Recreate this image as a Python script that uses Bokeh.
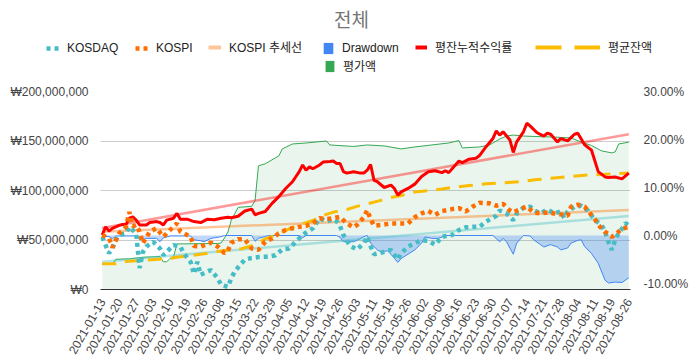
import math
from bokeh.plotting import figure
from bokeh.layouts import column
from bokeh.models import Range1d, LinearAxis, FixedTicker, Legend, LegendItem, Label
from bokeh.embed import file_html
from bokeh.resources import INLINE

FONT = "Liberation Sans, Noto Sans CJK KR"

# ---------------- data ----------------
title_text = "전체"
x_tick_labels = ["2021-01-13", "2021-01-20", "2021-01-27", "2021-02-03", "2021-02-10", "2021-02-19",
                 "2021-02-26", "2021-03-08", "2021-03-15", "2021-03-22", "2021-03-29", "2021-04-05",
                 "2021-04-12", "2021-04-19", "2021-04-26", "2021-05-03", "2021-05-11", "2021-05-18",
                 "2021-05-26", "2021-06-02", "2021-06-09", "2021-06-16", "2021-06-23", "2021-06-30",
                 "2021-07-07", "2021-07-14", "2021-07-21", "2021-07-28", "2021-08-04", "2021-08-11",
                 "2021-08-19", "2021-08-26"]
n_days = 156          # trading days, 2021-01-13 .. 2021-08-26
label_step = 5        # one label every 5 trading days

left_ticks = [0, 50, 100, 150, 200]            # millions of won
left_tick_labels = ["₩0", "₩50,000,000", "₩100,000,000", "₩150,000,000", "₩200,000,000"]
right_ticks = [-10, 0, 10, 20, 30]             # percent
right_tick_labels = ["-10.00%", "0.00%", "10.00%", "20.00%", "30.00%"]

# 평잔누적수익률 (%), day index -> value
red_idx = [0, 1, 2, 3, 5, 6, 7, 8, 9, 10, 11, 13, 14, 16, 17, 18, 19, 21, 22, 23, 25, 27, 29, 31, 33, 35, 37, 38,
           40, 42, 44, 45, 46, 48, 50, 52, 54, 56, 58, 59, 60, 61, 62, 64, 65, 67, 68, 69, 70, 71, 72, 74, 76, 77,
           78, 79, 80, 81, 83, 85, 86, 87, 88, 90, 92, 94, 96, 98, 100, 101, 102, 105, 106, 108, 110, 111, 113,
           115, 116, 117, 118, 120, 121, 122, 124, 125, 126, 128, 130, 131, 132, 134, 135, 137, 139, 140, 142,
           144, 146, 148, 149, 151, 153, 155]
red_val = [0.1, 1.8, 0.9, 1.5, 2.1, 2.3, 2.3, 3.6, 3.9, 3.2, 2.2, 2.2, 2.7, 2.9, 2.7, 2.2, 3.2, 3.6, 4.6, 3.4, 3.4,
           2.9, 2.7, 3.4, 3.3, 3.6, 3.8, 3.7, 4.0, 5.1, 5.5, 4.3, 4.6, 5.0, 6.7, 8.1, 9.8, 11.2, 13.3, 14.7, 13.6,
           14.3, 13.9, 14.7, 15.3, 15.4, 15.5, 15.0, 15.0, 13.3, 13.0, 13.3, 13.0, 13.0, 13.6, 14.8, 11.5, 11.2,
           10.0, 10.5, 9.8, 8.4, 9.1, 9.8, 10.7, 12.3, 13.3, 13.5, 13.1, 13.5, 13.1, 15.5, 15.2, 15.9, 16.1, 16.6,
           18.5, 20.2, 21.8, 20.9, 21.6, 19.9, 17.3, 19.5, 21.6, 23.4, 22.8, 21.4, 20.7, 21.3, 21.1, 19.5, 20.2,
           19.7, 21.1, 21.3, 18.9, 17.8, 13.3, 12.2, 12.1, 12.2, 11.8, 13.0]

# 평가액 (millions of won)
green_idx = [0, 3, 4, 8, 12, 17, 18, 19, 20, 21, 22, 34, 35, 36, 37, 38, 40, 44, 45, 46, 48, 52, 53, 56, 60, 66,
             67, 74, 78, 83, 88, 92, 97, 102, 105, 106, 111, 114, 117, 119, 121, 124, 128, 133, 138, 141, 144,
             147, 150, 151, 152, 155]
green_val = [25.5, 25.5, 30.5, 31, 32.6, 33.3, 28, 28, 31.5, 33, 46, 46.5, 47, 52, 58, 70, 83, 84, 90, 125, 127,
             135, 142, 147, 148, 150, 146, 144.5, 146, 145, 142, 144, 146, 148, 150.5, 143, 144, 146, 152, 155,
             156, 155, 154.5, 154, 153, 149, 145.5, 140, 138, 139, 147, 148.8]

# 평균잔액 (millions of won)
yellow_idx = [0, 4, 7, 12, 19, 22, 26, 30, 33, 36, 41, 45, 48, 52, 55, 58, 62, 65, 68, 72, 75, 78, 82, 85, 88, 92,
              96, 100, 104, 108, 113, 118, 123, 128, 133, 138, 143, 148, 155]
yellow_val = [26, 26, 28.3, 29.5, 31, 32.6, 34.3, 36, 37.7, 39.5, 41.1, 45.1, 51.2, 56.2, 61.3, 65.3, 69.7, 74.7,
              78.1, 80.8, 84, 86.5, 90, 93, 95, 98.4, 99.8, 101.5, 103.5, 105, 106.8, 107.8, 108.8, 111, 112.6,
              114.2, 115.6, 116.3, 117.6]

# KOSPI (%)
kospi_idx = [0, 2, 3, 5, 7, 8, 9, 10, 11, 12, 14, 16, 18, 20, 22, 23, 24, 26, 27, 29, 32, 34, 36, 37, 38, 40, 42,
             44, 46, 48, 50, 52, 54, 56, 58, 60, 62, 64, 66, 68, 70, 72, 74, 75, 77, 78, 79, 80, 82, 85, 88, 90,
             92, 94, 96, 98, 100, 103, 105, 107, 109, 111, 114, 116, 118, 120, 121, 123, 125, 127, 129, 131, 133,
             135, 137, 138, 140, 142, 145, 146, 148, 150, 151, 153, 155]
kospi_val = [0.1, -0.6, -2.5, 0.45, 1.8, 4.9, 1.9, 2.2, 0.8, -1.6, 0.8, 1.5, -0.25, 1.15, 2.5, 0.8, 0.45, -0.25,
             -2.2, -2.3, -1.5, -2.3, -3.7, -3.2, -1.5, -0.8, -0.8, -2.7, -3.0, -1.3, -0.6, 0.45, 1.15, 1.5, 1.8,
             2.0, 2.5, 3.6, 3.4, 3.6, 3.9, 2.5, 1.7, 2.2, 3.8, 5.3, 3.4, 2.05, 2.2, 2.5, 2.5, 2.5, 3.8, 4.6, 5.1,
             4.3, 5.1, 5.5, 5.7, 5.0, 6.0, 6.8, 6.7, 6.2, 6.6, 5.2, 4.8, 5.5, 6.0, 4.8, 4.6, 4.8, 4.6, 4.4, 4.1,
             6.0, 6.4, 6.0, 3.4, 2.2, 0.8, -0.3, 0.2, 1.4, 1.8]

# KOSDAQ (%)
kosdaq_idx = [0, 1, 2, 3, 4, 5, 7, 8, 10, 11, 12, 13, 15, 17, 18, 20, 21, 23, 24, 26, 27, 28, 29, 31, 32, 34, 35,
              37, 38, 39, 41, 42, 44, 46, 49, 51, 53, 55, 57, 59, 60, 62, 64, 66, 68, 69, 70, 71, 72, 73, 75, 77,
              78, 79, 80, 82, 83, 85, 87, 88, 90, 92, 94, 96, 98, 100, 103, 105, 107, 109, 111, 113, 116, 117,
              119, 121, 122, 124, 126, 127, 129, 131, 133, 135, 136, 137, 139, 141, 143, 145, 147, 148, 149, 150,
              151, 152, 153, 154, 155]
kosdaq_val = [-0.3, -2.0, -3.7, -2.7, -0.9, 0.1, 0.45, 1.8, 0.45, -6.8, -3.4, -2.3, -1.3, -2.7, -4.1, -2.7, -2.0,
              -2.3, -3.7, -5.5, -8.0, -5.5, -8.2, -7.5, -7.2, -8.9, -10.3, -10.7, -8.9, -7.5, -5.8, -5.0, -4.7,
              -4.5, -4.4, -4.1, -2.9, -2.7, -1.3, 0.1, 0.6, 1.5, 3.6, 2.9, 3.4, 3.0, 2.0, 0.1, -1.0, -2.2, -2.9,
              -1.6, -0.25, -2.2, -3.9, -3.6, -3.4, -3.0, -5.0, -3.7, -2.3, -1.6, -1.0, -1.1, -1.9, -0.25, 0.1,
              1.15, 1.7, 1.8, 1.8, 2.9, 4.1, 5.2, 4.6, 3.2, 4.6, 5.8, 6.0, 5.3, 4.6, 5.4, 4.6, 5.0, 3.6, 5.0, 6.0,
              6.2, 5.2, 3.2, 2.2, 0.8, -1.3, -3.0, -0.9, 0.5, 1.4, 2.6, 2.0]

# Drawdown (%)
dd_idx = [0, 2, 3, 4, 10, 11, 12, 13, 16, 17, 18, 20, 26, 27, 29, 30, 32, 35, 36, 44, 45, 46, 48, 49, 58, 59, 60,
          69, 70, 71, 74, 75, 77, 78, 79, 81, 82, 84, 85, 87, 88, 90, 92, 94, 95, 97, 99, 101, 115, 117, 118, 119,
          121, 122, 124, 126, 127, 129, 130, 132, 134, 135, 137, 138, 140, 141, 142, 144, 146, 148, 149, 151,
          153, 155]
dd_val = [-0.2, -0.2, -0.7, -0.1, -0.1, -0.9, -0.9, -0.6, -0.6, -1.3, -0.5, -0.1, -0.1, -0.9, -1.1, -1.3, -0.6,
          -0.25, 0, 0, -1.2, -0.6, -0.2, 0, 0, -0.45, 0, 0, -0.4, -1.3, -1.3, -1.0, -0.25, 0, -1.6, -3.0, -3.4,
          -3.2, -3.9, -5.6, -4.8, -3.9, -3.0, -1.6, -0.3, -0.6, -0.6, 0, 0, -1.3, -0.6, -1.3, -3.9, -1.6, 0, -0.1,
          -0.9, -1.9, -2.4, -1.9, -2.4, -3.0, -2.6, -1.6, -1.0, -0.9, -2.3, -3.7, -5.8, -9.3, -9.9, -9.7, -9.8,
          -8.8]

# trend lines (%), first and last day
trend_idx = [0, 155]
red_trend = [1.56, 21.1]
kospi_trend = [0.8, 5.3]
kosdaq_trend = [-5.45, 4.06]

# ---------------- header (title + legend) ----------------
# The header's ranges are set far away from the data, so its renderers only
# serve as legend swatches and draw nothing in the header itself.
HEAD_H = 80
head = figure(width=691, height=HEAD_H, output_backend="svg", toolbar_location=None, title=None,
              x_axis_type=None, y_axis_type=None, x_range=Range1d(-1000, -999), y_range=Range1d(-1000, -999),
              min_border=0, outline_line_color=None, background_fill_color="white",
              border_fill_color="white")
head.frame_align = False
head.xgrid.visible = False
head.ygrid.visible = False

h_kosdaq = head.line(kosdaq_idx, kosdaq_val, line_color="#46BDC6", line_width=4.5, line_dash="4 4",
                     line_cap="butt")
h_kospi = head.line(kospi_idx, kospi_val, line_color="#FF6D01", line_width=4.5, line_dash="4 4",
                    line_cap="butt")
h_kospi_tr = head.line(trend_idx, kospi_trend, line_color="#FF6D01", line_alpha=0.4, line_width=4)
h_dd = head.varea(x=dd_idx, y1=dd_val, y2=0, fill_color="#4285F4")
h_red = head.line(red_idx, red_val, line_color="#FF0000", line_width=4)
h_yellow = head.line(yellow_idx, yellow_val, line_color="#FBBC04", line_width=4, line_dash="26 13")
h_green = head.varea(x=green_idx, y1=0, y2=green_val, fill_color="#34A853")


def add_legend(label, renderer, vx, vy, gw):
    leg = Legend(items=[LegendItem(label=label, renderers=[renderer])], location=(vx, vy),
                 orientation="horizontal", glyph_width=gw, glyph_height=14, label_standoff=8,
                 label_height=14, padding=0, margin=0, spacing=0, border_line_color=None,
                 background_fill_alpha=0, label_text_font=FONT, label_text_font_size="12px",
                 label_text_color="#222222")
    head.add_layout(leg, "center")


row1 = HEAD_H - 55
row2 = HEAD_H - 74
add_legend("KOSDAQ", h_kosdaq, 46, row1, 13)
add_legend("KOSPI", h_kospi, 135, row1, 13)
add_legend("KOSPI 추세선", h_kospi_tr, 208, row1, 13)
add_legend("Drawdown", h_dd, 322, row1, 12)
add_legend("평잔누적수익률", h_red, 415, row1, 12)
add_legend("평균잔액", h_yellow, 535, row1, 65)
add_legend("평가액", h_green, 324, row2, 11)

head.add_layout(Label(x=351, y=HEAD_H - 20, x_units="screen", y_units="screen", text=title_text,
                      text_align="center", text_baseline="middle", text_font=FONT,
                      text_font_size="19px", text_color="#757575"))

# ---------------- main chart ----------------
p = figure(width=691, height=361 - HEAD_H, output_backend="svg", toolbar_location=None, title=None,
           x_range=Range1d(-0.5, n_days - 0.5), y_range=Range1d(0, 200),
           min_border_left=100, min_border_right=58, min_border_top=91 - HEAD_H, min_border_bottom=72,
           background_fill_color="white", border_fill_color="white", outline_line_color=None)
p.frame_align = False
p.extra_y_ranges = {"pct": Range1d(-11.25, 30)}
right_axis = LinearAxis(y_range_name="pct")
p.add_layout(right_axis, "right")

xa = p.xaxis[0]
xa.ticker = FixedTicker(ticks=[i * label_step for i in range(len(x_tick_labels))])
xa.major_label_overrides = {i * label_step: lab for i, lab in enumerate(x_tick_labels)}
xa.major_label_orientation = math.pi / 3
xa.major_tick_line_color = None
xa.minor_tick_line_color = None
xa.axis_line_color = "#333333"
xa.major_label_text_font = FONT
xa.major_label_text_font_size = "12px"
xa.major_label_text_color = "#444444"
xa.major_label_standoff = 4

la = p.left[0]
la.ticker = FixedTicker(ticks=left_ticks)
la.major_label_overrides = dict(zip(left_ticks, left_tick_labels))
ra = right_axis
ra.ticker = FixedTicker(ticks=right_ticks)
ra.major_label_overrides = dict(zip(right_ticks, right_tick_labels))
for ax in (la, ra):
    ax.axis_line_color = None
    ax.major_tick_line_color = None
    ax.minor_tick_line_color = None
    ax.major_label_text_font = FONT
    ax.major_label_text_font_size = "12px"
    ax.major_label_text_color = "#444444"
la.major_label_standoff = 6
ra.major_label_standoff = 7

p.xgrid.grid_line_color = None
p.ygrid.ticker = FixedTicker(ticks=left_ticks)
p.ygrid.grid_line_color = "#cccccc"

p.varea(x=green_idx, y1=0, y2=green_val, fill_color="#34A853", fill_alpha=0.1)
p.line(green_idx, green_val, line_color="#34A853", line_width=1)

p.varea(x=dd_idx, y1=dd_val, y2=0, y_range_name="pct", fill_color="#4285F4", fill_alpha=0.32)
p.line(dd_idx, dd_val, y_range_name="pct", line_color="#4285F4", line_width=1)

p.line(trend_idx, kosdaq_trend, y_range_name="pct", line_color="#46BDC6", line_alpha=0.4, line_width=2.5)
p.line(trend_idx, kospi_trend, y_range_name="pct", line_color="#FF6D01", line_alpha=0.4, line_width=2.5)
p.line(trend_idx, red_trend, y_range_name="pct", line_color="#FF0000", line_alpha=0.4, line_width=2.5)

p.line(yellow_idx, yellow_val, line_color="#FBBC04", line_width=3, line_dash="14 9")
p.line(red_idx, red_val, y_range_name="pct", line_color="#FF0000", line_width=3)
p.line(kosdaq_idx, kosdaq_val, y_range_name="pct", line_color="#46BDC6", line_width=4.5,
       line_dash="4 4", line_cap="butt")
p.line(kospi_idx, kospi_val, y_range_name="pct", line_color="#FF6D01", line_width=4.5,
       line_dash="4 4", line_cap="butt")

layout = column(head, p, spacing=0)
open("out.html", "w").write(file_html(layout, INLINE))
